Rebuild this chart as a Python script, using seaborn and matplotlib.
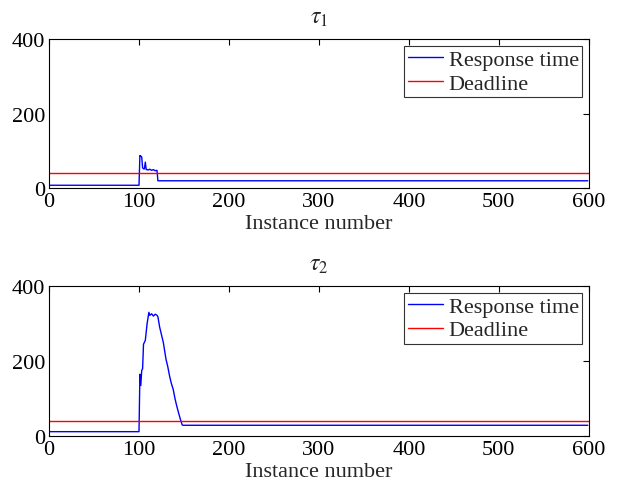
import numpy as np
import pandas as pd
import matplotlib
matplotlib.use('Agg')
import matplotlib.pyplot as plt
import seaborn as sns

# Data: (instance, response time) break points
inst_t1 = [1, 100, 101, 102, 103, 104, 105, 106, 107, 108, 109, 110, 112, 114, 116, 118, 120, 121, 599]
rt_t1 = [8, 8, 88, 86, 84, 55, 52, 52, 70, 50, 50, 49, 51, 48, 50, 47, 48, 20, 20]

inst_t2 = [1, 100, 101, 102, 103, 104, 105, 107, 109, 110, 111, 112, 114, 116, 118, 120,
           121, 123, 125, 127, 130, 132, 134, 136, 138, 140, 142, 144, 146, 148, 149, 599]
rt_t2 = [12, 12, 165, 135, 175, 180, 245, 255, 300, 315, 330, 322, 326, 320, 325, 322,
         318, 290, 270, 250, 205, 185, 160, 140, 125, 100, 80, 62, 45, 30, 29, 29]

deadline = 40
titles = [r'$\tau_1$', r'$\tau_2$']
x_ticks = [0, 100, 200, 300, 400, 500, 600]
y_ticks = [0, 200, 400]

sns.set_style('white')
plt.rcParams['font.family'] = ['Liberation Serif', 'DejaVu Serif']
plt.rcParams['mathtext.fontset'] = 'stix'

fig = plt.figure(figsize=(6.29, 4.89), dpi=100)
ax1 = fig.add_axes([0.078, 0.613, 0.858, 0.305])
ax2 = fig.add_axes([0.078, 0.106, 0.858, 0.307])

series = [(inst_t1, rt_t1), (inst_t2, rt_t2)]
for ax, (xs, ys), title in zip([ax1, ax2], series, titles):
    df = pd.DataFrame({'Instance': xs, 'Response': ys})
    sns.lineplot(data=df, x='Instance', y='Response', ax=ax, color='blue',
                 linewidth=1.0, label='Response time')
    ax.axhline(deadline, color='red', linewidth=1.0, label='Deadline')
    ax.set_xlim(0, 600)
    ax.set_ylim(0, 400)
    ax.set_xticks(x_ticks)
    ax.set_yticks(y_ticks)
    ax.tick_params(direction='in', length=4, width=0.8, labelsize=16,
                   top=True, right=True, pad=3, colors='black')
    ax.set_xlabel('Instance number', fontsize=16, labelpad=2)
    ax.set_ylabel('')
    ax.set_title(title, fontsize=17, pad=12)
    for s in ax.spines.values():
        s.set_color('black')
        s.set_linewidth(0.8)
    leg = ax.legend(loc='upper right', fontsize=16, frameon=True, fancybox=False,
                    borderpad=0.15, handlelength=1.6, handletextpad=0.25,
                    labelspacing=0.15, borderaxespad=0.3)
    leg.get_frame().set_edgecolor('black')
    leg.get_frame().set_linewidth(0.8)

fig.savefig('out.png', dpi=100)
